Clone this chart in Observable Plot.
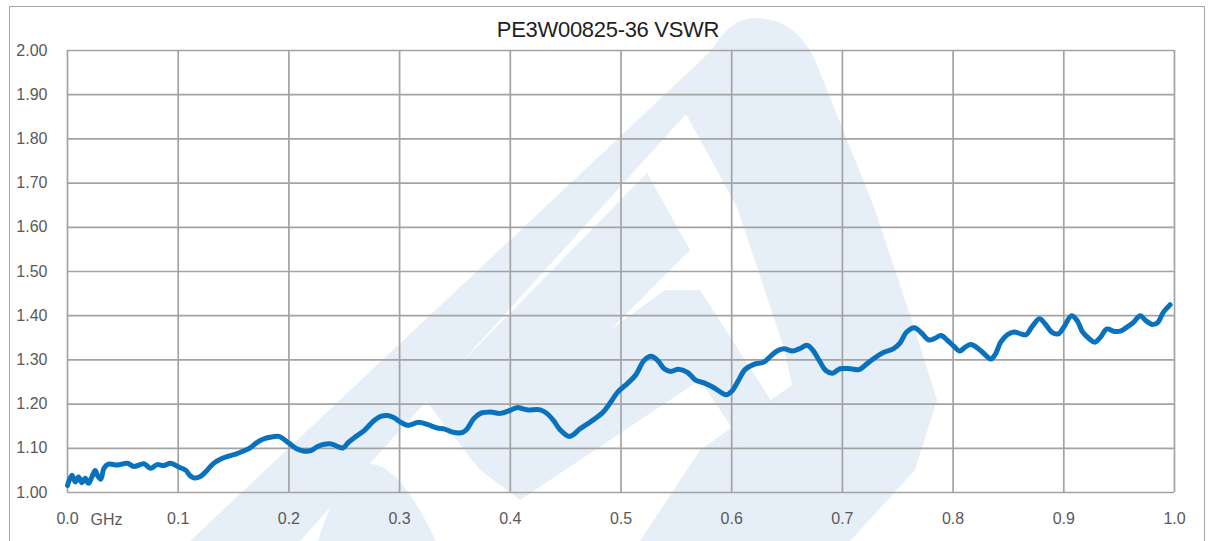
<!DOCTYPE html>
<html><head><meta charset="utf-8">
<script src="https://cdn.jsdelivr.net/npm/d3@7"></script>
<script src="https://cdn.jsdelivr.net/npm/@observablehq/plot@0.6"></script>
<style>
body{margin:0;background:#fff;}
#wrap{position:relative;width:1212px;height:541px;overflow:hidden;font-family:"Liberation Sans",Arial,sans-serif;}
#frame{position:absolute;left:9px;top:6px;width:1196px;height:600px;border:1.5px solid #a6a6a6;box-sizing:border-box;}
#wm{position:absolute;left:0;top:0;}
#title{position:absolute;left:0;width:1216px;top:17px;text-align:center;font-size:22px;color:#1f1f1f;letter-spacing:-0.3px;}
#chart{position:absolute;left:0;top:0;}
</style></head>
<body>
<div id="wrap">
<div id="frame"></div>
<svg id="wm" width="1212" height="541" aria-hidden="true">
  <g fill="#e6eef7">
    <path d="M190,541 L300,541 L686,114 L737,207 L783,345 L792,385 L700,450 L640,541 L850,541 L915,470 L937,400 L915,330 L874,207 L815,60 Q795,18 755,18 Q730,18 712,50 Z"/>
    <path d="M425,400 L647,173 L690,250 L610,330 L665,290 L700,290 L790,430 L760,470 L700,380 L520,500 L480,470 Z"/>
    <path d="M318,541 Q340,470 369,464 Q398,462 436,541 Z"/>
  </g>
</svg>
<div id="chart"></div>
<div id="title">PE3W00825-36 VSWR</div>
</div>
<script>
const freqGHz = [0.000,0.004,0.007,0.010,0.013,0.016,0.019,0.022,0.025,0.027,0.030,0.033,0.037,0.045,0.054,0.060,0.069,0.075,0.081,0.087,0.093,0.101,0.107,0.110,0.114,0.120,0.126,0.132,0.138,0.144,0.152,0.159,0.165,0.171,0.177,0.183,0.191,0.195,0.201,0.207,0.213,0.220,0.226,0.232,0.238,0.244,0.249,0.254,0.259,0.268,0.277,0.283,0.289,0.295,0.301,0.307,0.311,0.317,0.325,0.334,0.340,0.349,0.357,0.361,0.367,0.373,0.382,0.391,0.400,0.406,0.415,0.427,0.433,0.439,0.445,0.453,0.457,0.463,0.472,0.484,0.490,0.497,0.506,0.513,0.521,0.527,0.533,0.539,0.545,0.552,0.560,0.567,0.576,0.584,0.590,0.595,0.600,0.606,0.612,0.620,0.629,0.635,0.641,0.647,0.655,0.661,0.668,0.673,0.679,0.685,0.691,0.698,0.707,0.715,0.722,0.730,0.737,0.746,0.752,0.758,0.765,0.771,0.778,0.783,0.789,0.795,0.801,0.806,0.811,0.816,0.822,0.828,0.834,0.838,0.843,0.849,0.855,0.861,0.866,0.871,0.878,0.883,0.889,0.895,0.900,0.907,0.912,0.917,0.923,0.928,0.933,0.939,0.945,0.951,0.957,0.963,0.969,0.974,0.980,0.985,0.990,0.996];
const vswr = [1.016,1.039,1.024,1.035,1.022,1.032,1.021,1.035,1.050,1.039,1.030,1.055,1.064,1.062,1.066,1.059,1.065,1.055,1.063,1.061,1.066,1.057,1.050,1.040,1.033,1.036,1.050,1.066,1.075,1.081,1.087,1.094,1.101,1.113,1.121,1.125,1.127,1.121,1.110,1.099,1.094,1.095,1.104,1.109,1.110,1.104,1.101,1.114,1.124,1.140,1.163,1.172,1.174,1.169,1.159,1.152,1.154,1.159,1.154,1.146,1.144,1.136,1.136,1.144,1.167,1.179,1.182,1.179,1.186,1.192,1.187,1.187,1.179,1.163,1.142,1.127,1.131,1.144,1.159,1.182,1.202,1.227,1.247,1.265,1.299,1.308,1.299,1.280,1.274,1.279,1.272,1.255,1.247,1.237,1.227,1.221,1.229,1.253,1.278,1.290,1.295,1.308,1.320,1.325,1.320,1.325,1.333,1.323,1.299,1.276,1.270,1.280,1.280,1.278,1.291,1.306,1.317,1.325,1.338,1.363,1.373,1.362,1.345,1.348,1.355,1.344,1.330,1.320,1.329,1.335,1.327,1.314,1.302,1.312,1.340,1.357,1.363,1.359,1.357,1.374,1.393,1.382,1.363,1.359,1.374,1.400,1.389,1.363,1.348,1.340,1.351,1.370,1.365,1.365,1.374,1.385,1.400,1.389,1.380,1.385,1.408,1.425];
const xTicks = [0,0.1,0.2,0.3,0.4,0.5,0.6,0.7,0.8,0.9,1.0];
const yTicks = [1.0,1.1,1.2,1.3,1.4,1.5,1.6,1.7,1.8,1.9,2.0];
const xUnit = "GHz";

const data = freqGHz.map((f,i)=>({f, v: vswr[i]}));
const grid = "#a3a3a3";
const chart = Plot.plot({
  width:1212, height:541,
  marginLeft:67, marginRight:38, marginTop:50, marginBottom:49,
  style:{fontFamily:'"Liberation Sans",Arial,sans-serif', fontSize:"16px", color:"#595959", background:"transparent", overflow:"visible"},
  x:{domain:[0,1]},
  y:{domain:[1,2]},
  marks:[
    Plot.gridX(xTicks,{stroke:grid, strokeOpacity:1, strokeWidth:1.7}),
    Plot.gridY(yTicks,{stroke:grid, strokeOpacity:1, strokeWidth:1.7}),
    Plot.axisX(xTicks,{tickSize:0, tickPadding:20, label:null, tickFormat:d=>d.toFixed(1)}),
    Plot.axisY(yTicks,{tickSize:0, tickPadding:20, label:null, tickFormat:d=>d.toFixed(2)}),
    Plot.text([xTicks[0]],{x:d=>d, y:()=>yTicks[0], text:()=>xUnit, textAnchor:"start", dx:23, dy:27, fill:"#595959"}),
    Plot.line(data,{x:"f", y:"v", stroke:"#0a72bd", strokeWidth:5, curve:"catmull-rom", strokeLinejoin:"round", strokeLinecap:"round"})
  ]
});
document.getElementById("chart").appendChild(chart);
</script>
</body></html>
